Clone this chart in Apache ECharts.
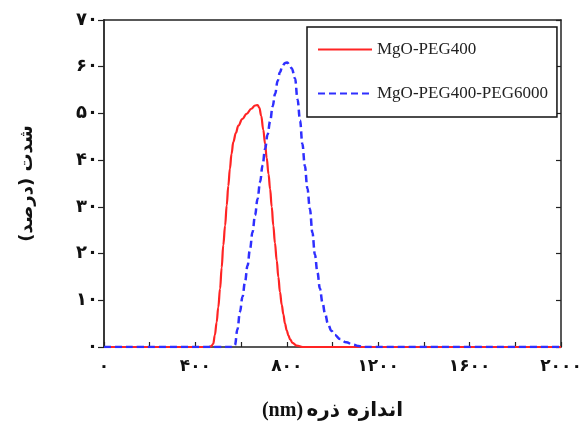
<!DOCTYPE html>
<html>
<head>
<meta charset="utf-8">
<script src="https://cdn.jsdelivr.net/npm/echarts@6/dist/echarts.min.js"></script>
<style>
html,body{margin:0;padding:0;background:#fff;}
#chart{width:579px;height:423px;}
</style>
</head>
<body>
<div id="chart"></div>
<script>
// ---- data ----
var seriesNames = ['MgO-PEG400', 'MgO-PEG400-PEG6000'];
var xTickLabels = ['۰', '۴۰۰', '۸۰۰', '۱۲۰۰', '۱۶۰۰', '۲۰۰۰'];
var yTickLabels = ['۰', '۱۰', '۲۰', '۳۰', '۴۰', '۵۰', '۶۰', '۷۰'];
var xTitlePersian = 'اندازه ذره';
var xTitleUnit = '(nm)';
var yTitle = 'شدت (درصد)';

var redX = [0,200,400,460,470,478,485,493,500,508,515,522,530,537,544,551,558,566,577,588,605,624,645,661,672,680,688,697,705,712,720,727,734,741,748,756,763,770,778,785,792,800,807,814,825,843,870,1000,2000];
var redY = [0,0,0,0,0.2,0.7,2.5,5.3,8.5,12.5,17,21.8,26,30.3,34.5,38.2,41.3,43.9,45.8,47.4,48.8,49.9,51,51.7,51.8,51.2,49.5,46.5,43.5,40.5,37,33.8,30,26,22.3,18.5,15,11.8,9,7,5,3.5,2.5,1.7,0.9,0.3,0,0,0];

var blueX = [0,500,565,573,584,595,606,617,628,639,650,661,672,683,694,705,716,727,738,749,760,770,780,792,802,812,822,836,847,858,868,879,890,901,912,923,934,945,956,968,981,995,1010,1033,1060,1090,1115,1140,2000];
var blueY = [0,0,0,0.4,3.8,7.5,10.7,13.9,17.4,21,24.6,28.2,31.7,35.3,38.9,42.4,45.5,48.3,51.5,54.2,57,58.8,60,60.8,60.9,60.4,59.6,57.5,53,48.5,43.5,38.8,34,29.6,24.5,19.8,16,12.5,9.5,7,4.8,3.5,2.6,1.7,1,0.5,0.2,0,0];

function zip(xs, ys){ return xs.map(function(x,i){ return [x, ys[i]]; }); }

var chart = echarts.init(document.getElementById('chart'), null, {renderer:'canvas'});
var axisColor = '#222';
var faFont = 'DejaVu Sans';

var option = {
  backgroundColor: '#fff',
  animation: false,
  grid: {left: 104, right: 18, top: 20, bottom: 76, containLabel: false, outerBoundsMode: 'none'},
  legend: {
    orient: 'vertical',
    left: 307, top: 27,
    padding: [14, 9, 15, 10],
    itemGap: 27,
    itemWidth: 54, itemHeight: 14,
    borderColor: '#111', borderWidth: 1.5,
    backgroundColor: '#fff',
    itemStyle: {opacity: 0, color: 'rgba(0,0,0,0)', borderWidth: 0},
    textStyle: {fontFamily: 'Liberation Serif', fontSize: 17, color: '#222'},
    data: seriesNames
  },
  xAxis: [{
    type: 'value', min: 0, max: 2000, interval: 200,
    position: 'bottom',
    axisLine: {show: true, onZero: false, lineStyle: {color: axisColor, width: 1.5}},
    axisTick: {show: true, inside: true, length: 5, lineStyle: {color: axisColor, width: 1.2}},
    splitLine: {show: false},
    axisLabel: {
      margin: 11, fontFamily: faFont, fontWeight: 'bold', fontSize: 17, color: '#111',
      formatter: function(v){ return (v % 400 === 0) ? xTickLabels[v/400] : ''; }
    },
    name: '{u|' + xTitleUnit + '} {p|' + xTitlePersian + '}',
    nameLocation: 'middle', nameGap: 54,
    nameTextStyle: {
      rich: {
        u: {fontFamily: 'Liberation Serif', fontWeight: 'bold', fontSize: 20, color: '#111'},
        p: {fontFamily: faFont, fontWeight: 'bold', fontSize: 20, color: '#111'}
      }
    }
  }, {
    type: 'value', min: 0, max: 2000, position: 'top',
    axisLine: {show: true, onZero: false, lineStyle: {color: axisColor, width: 1.5}},
    axisTick: {show: false}, axisLabel: {show: false}, splitLine: {show: false}
  }],
  yAxis: [{
    type: 'value', min: 0, max: 70, interval: 10, position: 'left',
    axisLine: {show: true, onZero: false, lineStyle: {color: axisColor, width: 1.8}},
    axisTick: {show: true, inside: false, length: 6, lineStyle: {color: axisColor, width: 1.2}},
    splitLine: {show: false},
    axisLabel: {
      margin: 6, fontFamily: faFont, fontWeight: 'bold', fontSize: 18, color: '#111',
      formatter: function(v){ return yTickLabels[Math.round(v/10)]; }
    },
    name: '\u202B' + yTitle + '\u202C',
    nameLocation: 'middle', nameGap: 68, nameRotate: 90,
    nameTextStyle: {fontFamily: faFont, fontWeight: 'bold', fontSize: 18, color: '#111'}
  }, {
    type: 'value', min: 0, max: 70, interval: 10, position: 'right',
    axisLine: {show: true, onZero: false, lineStyle: {color: axisColor, width: 1.5}},
    axisTick: {show: true, inside: true, length: 5, lineStyle: {color: axisColor, width: 1.2}},
    axisLabel: {show: false}, splitLine: {show: false}
  }],
  series: [{
    name: seriesNames[0], type: 'line', xAxisIndex: 0, yAxisIndex: 0,
    data: zip(redX, redY), symbol: 'none', smooth: 0.4, smoothMonotone: 'x',
    lineStyle: {color: '#ff2424', width: 2.2}, itemStyle: {color: '#ff2424'}
  }, {
    name: seriesNames[1], type: 'line', xAxisIndex: 0, yAxisIndex: 0,
    data: zip(blueX, blueY), symbol: 'none', smooth: 0.4, smoothMonotone: 'x',
    lineStyle: {color: '#2f2fff', width: 2.5, type: [7, 4]}, itemStyle: {color: '#2f2fff'}
  }]
};
chart.setOption(option);
</script>
</body>
</html>
